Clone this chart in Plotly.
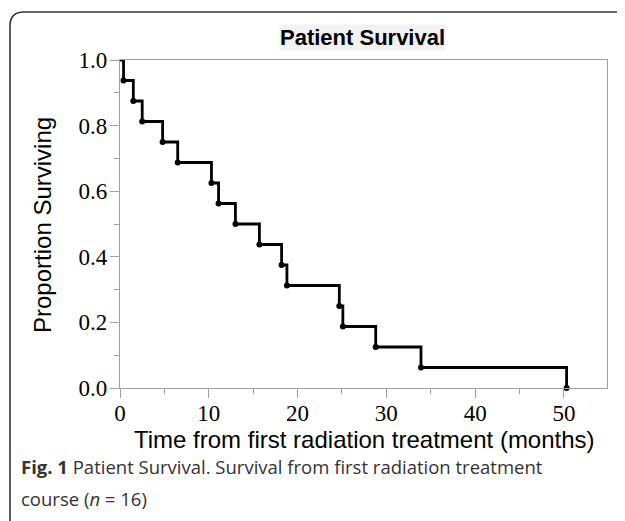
import plotly.graph_objects as go

# Kaplan-Meier data (n = 16)
event_times = [0.4, 1.5, 2.5, 4.8, 6.5, 10.3, 11.1, 13.0, 15.7, 18.2, 18.8, 24.7, 25.1, 28.8, 33.9, 50.3]
survival = [0.9375, 0.875, 0.8125, 0.75, 0.6875, 0.625, 0.5625, 0.5, 0.4375, 0.375,
            0.3125, 0.25, 0.1875, 0.125, 0.0625, 0.0]
x_ticks = [0, 10, 20, 30, 40, 50]
y_ticks = [0.0, 0.2, 0.4, 0.6, 0.8, 1.0]

step_x = [0] + event_times
step_y = [1.0] + survival

# page has an 8px body margin, so the figure is 8px smaller and all
# screen positions below are shifted by -8
OFF = 8
W, H = 625 - OFF, 521 - OFF
ML, MR, MT, MB = 120 - OFF, 18, 60 - OFF, 133
pw, ph = W - ML - MR, H - MT - MB


def px(x):
    return (x - OFF - ML) / pw


def py(y):
    return (H - MB - (y - OFF)) / ph


fig = go.Figure()
fig.add_trace(go.Scatter(x=step_x, y=step_y, mode="lines", line_shape="hv",
                         line=dict(color="black", width=2.8), cliponaxis=False,
                         showlegend=False, hoverinfo="skip"))
fig.add_trace(go.Scatter(x=event_times, y=survival, mode="markers",
                         marker=dict(color="black", size=6), cliponaxis=False,
                         showlegend=False))

axis_common = dict(showgrid=False, zeroline=False, showline=True, linecolor="#a0a0a0",
                   linewidth=1.2, mirror=True, ticks="outside", tickcolor="#a0a0a0",
                   ticklen=9, tickwidth=1.2,
                   tickfont=dict(family="Liberation Serif", size=23, color="black"))

fig.update_xaxes(range=[0, 54.85], tickvals=x_ticks, ticktext=[str(v) for v in x_ticks],
                 ticklabelstandoff=-5,
                 minor=dict(ticks="outside", ticklen=5, tickcolor="#a0a0a0", dtick=5, tick0=0),
                 **axis_common)
fig.update_yaxes(range=[0, 1], tickvals=y_ticks, ticktext=[f"{v:.1f}" for v in y_ticks],
                 ticklabelstandoff=-2,
                 minor=dict(ticks="outside", ticklen=5, tickcolor="#a0a0a0", dtick=0.1, tick0=0),
                 **axis_common)

r = 14
card = (f"M {px(10)},{py(540)} L {px(10)},{py(12 + r)} "
        f"Q {px(10)},{py(12)} {px(10 + r)},{py(12)} L {px(650)},{py(12)}")

fig.update_layout(
    width=W, height=H,
    margin=dict(l=ML, r=MR, t=MT, b=MB),
    plot_bgcolor="white", paper_bgcolor="white",
    shapes=[dict(type="path", xref="paper", yref="paper", path=card,
                 line=dict(color="#333333", width=1.6))],
)

fig.add_annotation(text="<b>Patient Survival</b>", xref="paper", yref="paper",
                   x=px(362), y=py(38), xanchor="center", yanchor="middle",
                   showarrow=False, bgcolor="#f2f2f2", borderpad=0,
                   font=dict(family="Liberation Sans", size=22, color="black"))
fig.add_annotation(text="Proportion Surviving", xref="paper", yref="paper",
                   x=px(42), y=py(225), xanchor="center", yanchor="middle",
                   textangle=-90, showarrow=False,
                   font=dict(family="Liberation Sans", size=24, color="black"))
fig.add_annotation(text="Time from first radiation treatment (months)", xref="paper", yref="paper",
                   x=px(364), y=py(439), xanchor="center", yanchor="middle", showarrow=False,
                   font=dict(family="Liberation Sans", size=24, color="black"))
fig.add_annotation(text="<b>Fig. 1</b> Patient Survival. Survival from first radiation treatment",
                   xref="paper", yref="paper", x=px(19), y=py(466),
                   xanchor="left", yanchor="middle",
                   showarrow=False, font=dict(family="Open Sans", size=18.5, color="#333333"))
fig.add_annotation(text="course (<i>n</i> = 16)",
                   xref="paper", yref="paper", x=px(19), y=py(498),
                   xanchor="left", yanchor="middle",
                   showarrow=False, font=dict(family="Open Sans", size=18.5, color="#333333"))

fig.write_html("out.html")
